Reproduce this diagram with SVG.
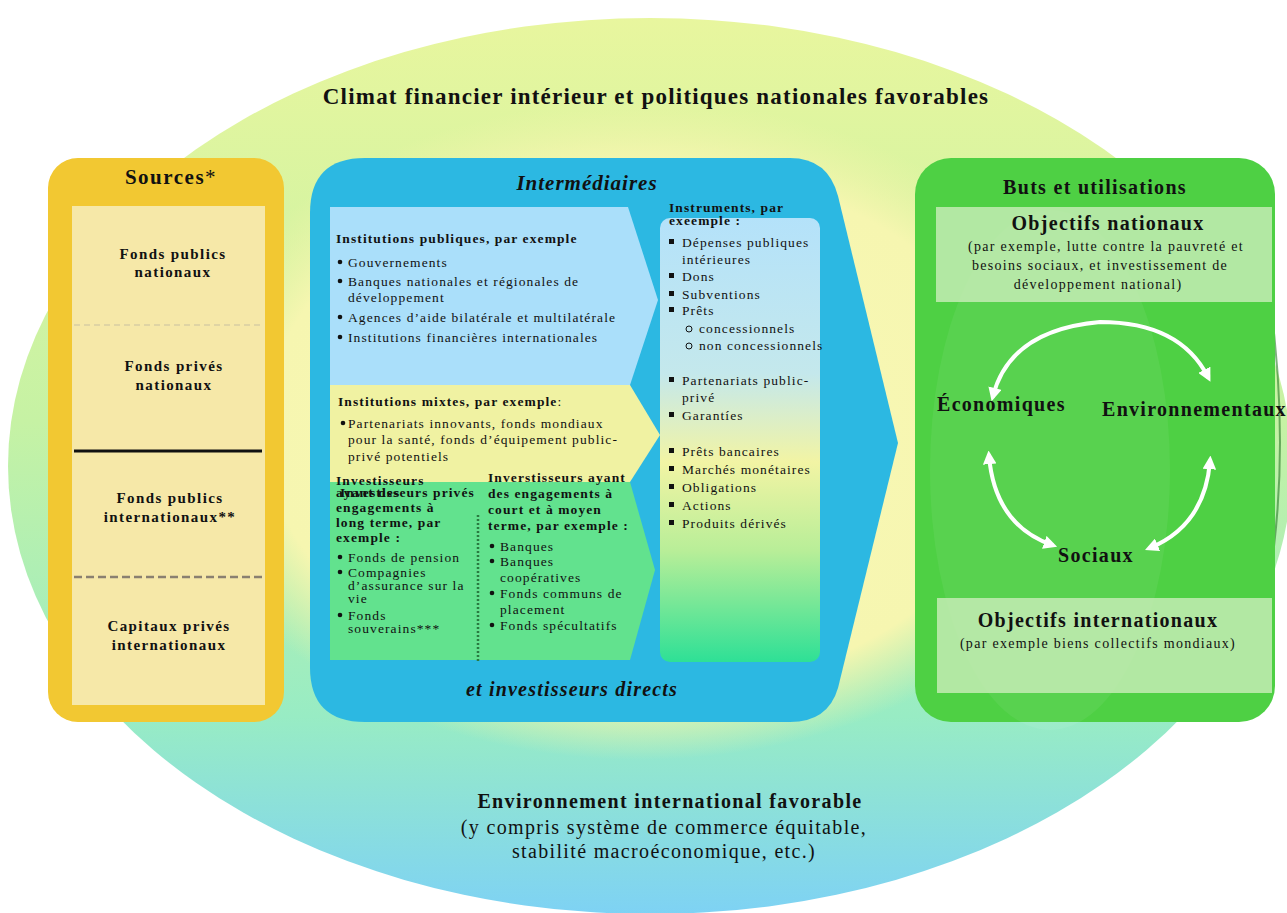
<svg xmlns="http://www.w3.org/2000/svg" width="1287" height="913" viewBox="0 0 1287 913" font-family="'Liberation Serif', 'DejaVu Serif', serif">
<defs>
<linearGradient id="bg" x1="0" y1="0" x2="0" y2="1">
<stop offset="0" stop-color="#e8f69e"/>
<stop offset="0.45" stop-color="#c6f2a4"/>
<stop offset="0.78" stop-color="#98ecc4"/>
<stop offset="1" stop-color="#7ed2f4"/>
</linearGradient>
<radialGradient id="inner" cx="0.5" cy="0.5" r="0.5">
<stop offset="0" stop-color="#f9f8b6"/>
<stop offset="0.8" stop-color="#f6f6b0"/>
<stop offset="1" stop-color="#f0f4a8" stop-opacity="0"/>
</radialGradient>
<linearGradient id="instr" x1="0" y1="0" x2="0" y2="1">
<stop offset="0" stop-color="#b4e2fa"/>
<stop offset="0.35" stop-color="#c4e8ec"/>
<stop offset="0.55" stop-color="#f2f4a4"/>
<stop offset="0.75" stop-color="#b8ee98"/>
<stop offset="1" stop-color="#2ee096"/>
</linearGradient>
<marker id="ah" viewBox="0 0 10 10" refX="6" refY="5" markerWidth="3.4" markerHeight="3.4" orient="auto-start-reverse">
<path d="M0,0 L10,5 L0,10 Z" fill="#ffffff"/>
</marker>
<style>
text{font-family:'Liberation Serif','DejaVu Serif',serif;fill:#111}
.b{font-weight:bold}
.bi{font-weight:bold;font-style:italic}
.s13{font-size:13.5px;letter-spacing:1.1px}
.src{font-size:15px;letter-spacing:1.4px;font-weight:bold;text-anchor:middle}
.h{font-size:20px;letter-spacing:1.3px}
.p{font-size:14px;letter-spacing:1.3px}
.c{text-anchor:middle}
.arr{fill:none;stroke:#ffffff;stroke-width:4;stroke-linecap:round;marker-start:url(#ah);marker-end:url(#ah)}
.bul{fill:#111}
</style>
</defs>

<!-- background -->
<rect x="0" y="0" width="1287" height="913" fill="#ffffff"/>
<ellipse cx="650" cy="466" rx="642" ry="448" fill="url(#bg)"/>
<ellipse cx="640" cy="430" rx="470" ry="330" fill="url(#inner)"/>
<path d="M1270,300 Q1300,520 1240,700" fill="none" stroke="#2a7a2a" stroke-width="2" opacity="0.6"/>

<text class="b c" x="656" y="104" font-size="23" letter-spacing="1.2">Climat financier intérieur et politiques nationales favorables</text>

<!-- Sources -->
<g id="sources">
<rect x="48" y="158" width="236" height="564" rx="30" fill="#f2c832"/>
<rect x="72" y="206" width="193" height="499" fill="#f6e8a8"/>
<text class="b c" x="171" y="184" font-size="21" letter-spacing="1.5">Sources<tspan font-weight="normal">*</tspan></text>
<line x1="74" y1="325" x2="263" y2="325" stroke="#c8c0a0" stroke-width="1" stroke-dasharray="6,4"/>
<line x1="74" y1="451" x2="262" y2="451" stroke="#111" stroke-width="3"/>
<line x1="74" y1="577" x2="265" y2="577" stroke="#8a8070" stroke-width="2.5" stroke-dasharray="8,4"/>
<text class="src" x="173" y="259">Fonds publics</text>
<text class="src" x="173" y="277">nationaux</text>
<text class="src" x="174" y="371">Fonds privés</text>
<text class="src" x="174" y="390">nationaux</text>
<text class="src" x="170" y="503">Fonds publics</text>
<text class="src" x="170" y="522">internationaux**</text>
<text class="src" x="169" y="631">Capitaux privés</text>
<text class="src" x="169" y="650">internationaux</text>
</g>

<!-- Intermediaires -->
<g id="intermediaires">
<path d="M365,158 H790 Q828,158 838,196 L898,443 L838,688 Q828,722 790,722 H365 Q310,722 310,667 V213 Q310,158 365,158 Z" fill="#2cb8e2"/>
<text class="bi c" x="587" y="190" font-size="21" letter-spacing="1">Intermédiaires</text>
<path d="M330,207 H628 L658,300 L630,385 H330 Z" fill="#aadffa"/>
<path d="M330,385 H630 L660,435 L630,482 H330 Z" fill="#f0f2a2"/>
<path d="M330,482 H630 L655,570 L630,660 H330 Z" fill="#62e28e"/>
<line x1="478" y1="515" x2="478" y2="662" stroke="#2a7a40" stroke-width="2.5" stroke-dasharray="2,2"/>

<text class="b s13" x="336" y="243">Institutions publiques, par exemple</text>
<circle class="bul" cx="340" cy="262" r="2.3"/>
<text class="s13" x="348" y="267">Gouvernements</text>
<circle class="bul" cx="340" cy="281" r="2.3"/>
<text class="s13" x="348" y="286">Banques nationales et régionales de</text>
<text class="s13" x="348" y="302">développement</text>
<circle class="bul" cx="340" cy="317" r="2.3"/>
<text class="s13" x="348" y="322">Agences d’aide bilatérale et multilatérale</text>
<circle class="bul" cx="340" cy="337" r="2.3"/>
<text class="s13" x="348" y="342">Institutions financières internationales</text>

<text class="b s13" x="338" y="406">Institutions mixtes, par exemple<tspan font-weight="normal">:</tspan></text>
<circle class="bul" cx="343" cy="423" r="2.3"/>
<text class="s13" x="348" y="428">Partenariats innovants, fonds mondiaux</text>
<text class="s13" x="348" y="444">pour la santé, fonds d’équipement public-</text>
<text class="s13" x="348" y="461">privé potentiels</text>

<text class="b s13" x="336" y="485">Investisseurs</text>
<text class="b s13" x="336" y="497">ayant des</text>
<text class="b s13" x="340" y="497">Investisseurs privés</text>
<text class="b s13" x="336" y="512">engagements à</text>
<text class="b s13" x="336" y="527">long terme, par</text>
<text class="b s13" x="336" y="542">exemple :</text>
<circle class="bul" cx="340" cy="557" r="2.3"/>
<text class="s13" x="348" y="562">Fonds de pension</text>
<circle class="bul" cx="340" cy="572" r="2.3"/>
<text class="s13" x="348" y="577">Compagnies</text>
<text class="s13" x="348" y="590">d’assurance sur la</text>
<text class="s13" x="348" y="603">vie</text>
<circle class="bul" cx="340" cy="615" r="2.3"/>
<text class="s13" x="348" y="620">Fonds</text>
<text class="s13" x="348" y="633">souverains***</text>

<text class="b s13" x="488" y="482">Inverstisseurs ayant</text>
<text class="b s13" x="488" y="498">des engagements à</text>
<text class="b s13" x="488" y="514">court et à moyen</text>
<text class="b s13" x="488" y="530">terme, par exemple :</text>
<circle class="bul" cx="492" cy="546" r="2.3"/>
<text class="s13" x="500" y="551">Banques</text>
<circle class="bul" cx="492" cy="561" r="2.3"/>
<text class="s13" x="500" y="566">Banques</text>
<text class="s13" x="500" y="582">coopératives</text>
<circle class="bul" cx="492" cy="593" r="2.3"/>
<text class="s13" x="500" y="598">Fonds communs de</text>
<text class="s13" x="500" y="614">placement</text>
<circle class="bul" cx="492" cy="625" r="2.3"/>
<text class="s13" x="500" y="630">Fonds spécultatifs</text>

<rect x="660" y="218" width="160" height="444" rx="10" fill="url(#instr)"/>
<text class="b s13" x="669" y="212">Instruments, par</text>
<text class="b s13" x="669" y="225">exeemple :</text>
<g class="bul">
<rect x="669" y="239" width="5" height="5"/>
<rect x="669" y="273" width="5" height="5"/>
<rect x="669" y="291" width="5" height="5"/>
<rect x="669" y="307" width="5" height="5"/>
<rect x="669" y="377" width="5" height="5"/>
<rect x="669" y="412" width="5" height="5"/>
<rect x="669" y="448" width="5" height="5"/>
<rect x="669" y="466" width="5" height="5"/>
<rect x="669" y="484" width="5" height="5"/>
<rect x="669" y="502" width="5" height="5"/>
<rect x="669" y="520" width="5" height="5"/>
</g>
<circle cx="689" cy="329" r="3" fill="none" stroke="#111" stroke-width="1"/>
<circle cx="689" cy="346" r="3" fill="none" stroke="#111" stroke-width="1"/>
<text class="s13" x="682" y="247">Dépenses publiques</text>
<text class="s13" x="682" y="264">intérieures</text>
<text class="s13" x="682" y="281">Dons</text>
<text class="s13" x="682" y="299">Subventions</text>
<text class="s13" x="682" y="315">Prêts</text>
<text class="s13" x="699" y="333">concessionnels</text>
<text class="s13" x="699" y="350">non concessionnels</text>
<text class="s13" x="682" y="385">Partenariats public-</text>
<text class="s13" x="682" y="402">privé</text>
<text class="s13" x="682" y="420">Garantíes</text>
<text class="s13" x="682" y="456">Prêts bancaires</text>
<text class="s13" x="682" y="474">Marchés monétaires</text>
<text class="s13" x="682" y="492">Obligations</text>
<text class="s13" x="682" y="510">Actions</text>
<text class="s13" x="682" y="528">Produits dérivés</text>

<text class="bi c" x="572" y="696" font-size="20" letter-spacing="1.2">et investisseurs directs</text>
</g>

<!-- Buts et utilisations -->
<g id="buts">
<rect x="915" y="158" width="360" height="564" rx="36" fill="#4ed044"/>
<ellipse cx="1050" cy="470" rx="120" ry="260" fill="#ffffff" opacity="0.06"/>
<text class="b c h" x="1095" y="194">Buts et utilisations</text>
<rect x="936" y="207" width="336" height="95" fill="#c4ecb4" opacity="0.85"/>
<text class="b c h" x="1108" y="230">Objectifs nationaux</text>
<text class="c p" x="1106" y="251">(par exemple, lutte contre la pauvreté et</text>
<text class="c p" x="1100" y="270">besoins sociaux, et investissement de</text>
<text class="c p" x="1098" y="289">développement national)</text>
<rect x="937" y="598" width="335" height="95" fill="#c4ecb4" opacity="0.85"/>
<text class="b c h" x="1098" y="627">Objectifs internationaux</text>
<text class="c p" x="1098" y="648" letter-spacing="1.5">(par exemple biens collectifs mondiaux)</text>
</g>

<g id="connectors">
<path class="arr" d="M993,396 Q1010,330 1100,322 Q1180,322 1208,377"/>
<path class="arr" d="M989,456 Q995,525 1052,545"/>
<path class="arr" d="M1210,461 Q1205,525 1150,548"/>
</g>

<g id="labels">
<text class="b h" x="937" y="411" letter-spacing="1.4">Économiques</text>
<text class="b h" x="1102" y="416" letter-spacing="1.6">Environnementaux</text>
<text class="b c h" x="1096" y="562" letter-spacing="1.4">Sociaux</text>
</g>

<g id="bottom">
<text class="b c" x="670" y="808" font-size="20" letter-spacing="1.35">Environnement international favorable</text>
<text class="c" x="664" y="834" font-size="20" letter-spacing="1.35">(y compris système de commerce équitable,</text>
<text class="c" x="664" y="858" font-size="20" letter-spacing="1.35">stabilité macroéconomique, etc.)</text>
</g>
</svg>
